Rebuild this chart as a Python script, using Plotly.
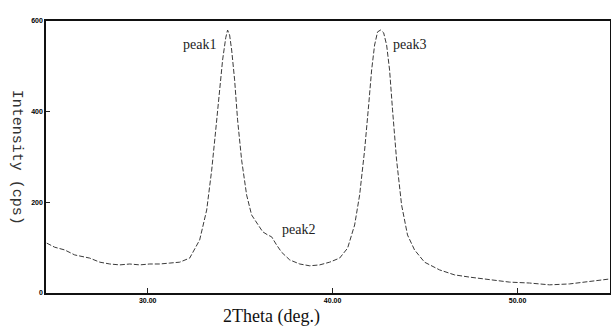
import plotly.graph_objects as go

two_theta = [24.54, 24.97, 25.51, 26.05, 26.86, 27.41, 27.95, 28.49, 29.03, 29.57,
             30.11, 30.65, 31.19, 31.73, 32.27, 32.81, 33.19, 33.46, 33.68, 33.89,
             34.05, 34.22, 34.32, 34.43, 34.54, 34.70, 34.86, 35.08, 35.35, 35.62,
             35.95, 36.22, 36.49, 36.70, 36.97, 37.24, 37.68, 38.22, 38.76, 39.30,
             39.84, 40.38, 40.81, 41.19, 41.46, 41.73, 41.95, 42.11, 42.27, 42.43,
             42.59, 42.76, 42.92, 43.08, 43.24, 43.46, 43.73, 44.05, 44.43, 44.97,
             45.78, 46.59, 47.41, 48.49, 49.57, 50.65, 51.73, 52.81, 53.89, 55.0]
intensity = [110, 101, 95, 84, 77, 68, 64, 62, 64, 62,
             64, 64, 66, 68, 77, 117, 183, 271, 360, 448,
             514, 563, 580, 569, 536, 470, 382, 293, 216, 172,
             150, 135, 128, 124, 106, 90, 73, 64, 60, 62,
             68, 77, 99, 150, 216, 315, 415, 492, 547, 576,
             580, 574, 547, 492, 404, 293, 194, 128, 95, 68,
             51, 40, 35, 29, 24, 22, 18, 20, 26, 31]

x_ticks = [30, 40, 50]
x_tick_labels = ["30.00", "40.00", "50.00"]
y_ticks = [0, 200, 400, 600]
y_tick_labels = ["0", "200", "400", "600"]

peak_names = ["peak1", "peak2", "peak3"]
peak_x = [33.8, 37.14, 43.14]
peak_y = [549, 141, 549]
peak_anchor = ["right", "left", "left"]

fig = go.Figure()
fig.add_trace(go.Scatter(x=two_theta, y=intensity, mode="lines",
                         line=dict(color="#3a3a3a", width=1, dash="5px,2px"),
                         showlegend=False, hoverinfo="skip"))

for name, px, py, anc in zip(peak_names, peak_x, peak_y, peak_anchor):
    fig.add_annotation(x=px, y=py, text=name, showarrow=False, xanchor=anc,
                       yanchor="middle", font=dict(family="Liberation Serif", size=14, color="#222"))

fig.add_annotation(xref="paper", yref="paper", x=-0.051, y=0.50, text="Intensity (cps)",
                   textangle=90, showarrow=False, xanchor="center", yanchor="middle",
                   font=dict(family="Liberation Mono", size=15, color="#333"))

fig.add_annotation(xref="paper", yref="paper", x=0.399, y=-0.085, text="2Theta (deg.)",
                   showarrow=False, xanchor="center", yanchor="middle",
                   font=dict(family="Liberation Serif", size=18, color="#111"))

fig.update_layout(
    width=611, height=327,
    margin=dict(l=46, r=1, t=21, b=34, autoexpand=False),
    paper_bgcolor="white", plot_bgcolor="white",
    xaxis=dict(range=[24.5, 55.0], tickvals=x_ticks, ticktext=x_tick_labels, automargin=False,
               ticks="inside", ticklen=5, tickcolor="#222", showgrid=False, zeroline=False,
               showline=True, linecolor="#111", linewidth=1.5, mirror=True,
               tickfont=dict(family="Liberation Sans", size=7, color="#000", weight="bold")),
    yaxis=dict(range=[0, 600], tickvals=y_ticks, ticktext=y_tick_labels, automargin=False,
               ticks="inside", ticklen=4, tickcolor="#222", showgrid=False, zeroline=False,
               showline=True, linecolor="#111", linewidth=1.5, mirror=True,
               tickfont=dict(family="Liberation Sans", size=7, color="#000", weight="bold")),
)

fig.write_html("out.html", config={"displayModeBar": False},
               post_script="document.body.style.margin='0';document.body.style.overflow='hidden';")
